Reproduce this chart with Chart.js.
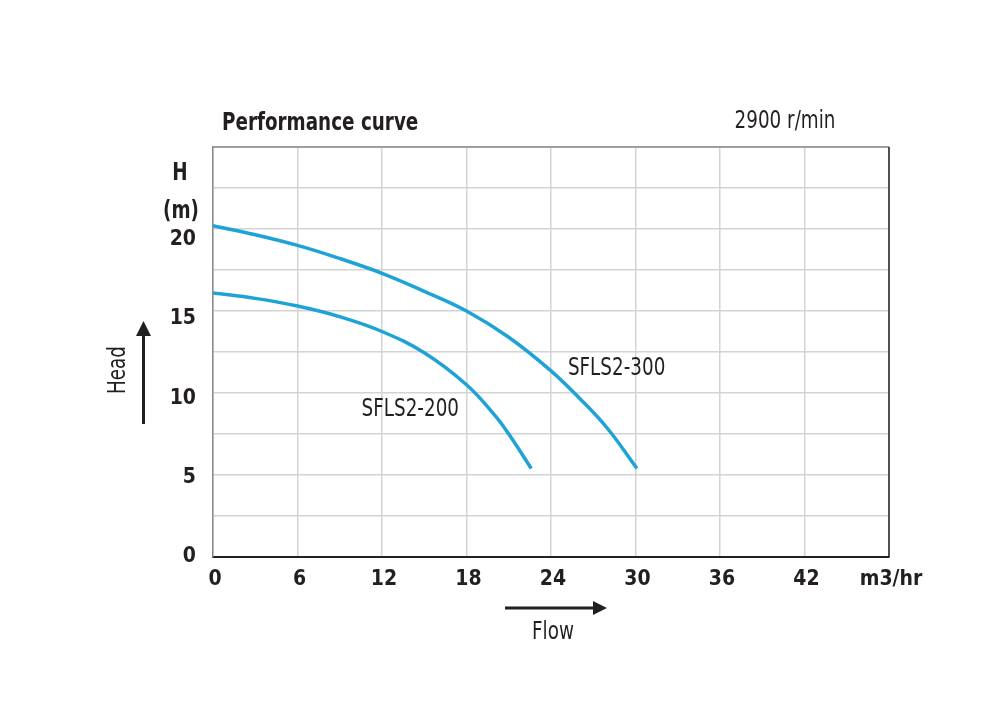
<!DOCTYPE html>
<html>
<head>
<meta charset="utf-8">
<script src="https://cdn.jsdelivr.net/npm/chart.js@4.4.0/dist/chart.umd.min.js"></script>
<style>
  html,body{margin:0;padding:0;background:#fff;}
  #wrap{width:1000px;height:712px;position:relative;}
</style>
</head>
<body>
<div id="wrap"><canvas id="c" width="1000" height="712"></canvas></div>
<script>
// ---- data ----
const flow300 = [0, 3, 6, 9, 12, 15, 18, 21, 24, 26, 28, 30.1];
const head300 = [20.2, 19.65, 19.0, 18.2, 17.3, 16.2, 15.0, 13.4, 11.35, 9.7, 7.85, 5.4];
const flow200 = [0, 3, 6, 9, 12, 15, 18, 20, 21, 22.6];
const head200 = [16.1, 15.77, 15.3, 14.65, 13.75, 12.45, 10.5, 8.65, 7.5, 5.4];
const seriesNames = ['SFLS2-300', 'SFLS2-200'];
const xTickLabels = {0:'0',6:'6',12:'12',18:'18',24:'24',30:'30',36:'36',42:'42',48:'m3/hr'};
const yTickValues = [0, 5, 10, 15, 20];
const titleText = 'Performance curve';
const speedText = '2900 r/min';
const yUnitLines = ['H', '(m)'];
const yAxisName = 'Head';
const xAxisName = 'Flow';
const curveLabelPos = [{name:'SFLS2-300', q:25.2, h:11.45}, {name:'SFLS2-200', q:10.55, h:9.0}];

const FONT = '"DejaVu Sans Condensed","Liberation Sans Narrow",Arial,sans-serif';
const INK = '#231f20';
const BLUE = '#1fa3d6';
const SX = 0.85; // horizontal squeeze for condensed look

const toPts = (xs, ys) => xs.map((x, i) => ({x, y: ys[i]}));

function squeezedText(ctx, txt, x, y, align) {
  ctx.save();
  ctx.translate(x, y);
  ctx.scale(SX, 1);
  ctx.textAlign = align;
  ctx.fillText(txt, 0, 0);
  ctx.restore();
}

const decor = {
  id: 'decor',
  afterDraw(chart) {
    const {ctx, chartArea: a, scales: {x, y}} = chart;
    ctx.save();
    ctx.lineWidth = 1.5;
    ctx.strokeStyle = '#8a8a8a';
    ctx.beginPath(); ctx.moveTo(a.left, a.top); ctx.lineTo(a.right, a.top); ctx.stroke();
    ctx.strokeStyle = '#222';
    ctx.beginPath(); ctx.moveTo(a.right, a.top); ctx.lineTo(a.right, a.bottom); ctx.stroke();

    ctx.fillStyle = INK;
    ctx.textBaseline = 'middle';
    ctx.font = 'bold 24px ' + FONT;
    squeezedText(ctx, titleText, 222, 124, 'left');
    ctx.font = '24px ' + FONT;
    squeezedText(ctx, speedText, 785, 122, 'center');
    ctx.font = 'bold 24px ' + FONT;
    squeezedText(ctx, yUnitLines[0], 180, 174, 'center');
    squeezedText(ctx, yUnitLines[1], 181, 212, 'center');
    ctx.font = '24px ' + FONT;
    curveLabelPos.forEach(p => {
      squeezedText(ctx, p.name, x.getPixelForValue(p.q), y.getPixelForValue(p.h), 'left');
    });
    ctx.save();
    ctx.translate(119, 370);
    ctx.rotate(-Math.PI / 2);
    ctx.scale(SX, 1);
    ctx.textAlign = 'center';
    ctx.fillText(yAxisName, 0, 0);
    ctx.restore();
    ctx.strokeStyle = INK; ctx.lineWidth = 3;
    ctx.beginPath(); ctx.moveTo(143.5, 424); ctx.lineTo(143.5, 334); ctx.stroke();
    ctx.beginPath(); ctx.moveTo(143.5, 321); ctx.lineTo(151, 336); ctx.lineTo(136, 336); ctx.closePath(); ctx.fill();
    ctx.beginPath(); ctx.moveTo(505, 608); ctx.lineTo(595, 608); ctx.stroke();
    ctx.beginPath(); ctx.moveTo(607, 608); ctx.lineTo(593, 601); ctx.lineTo(593, 615); ctx.closePath(); ctx.fill();
    ctx.font = '24px ' + FONT;
    squeezedText(ctx, xAxisName, 553, 633, 'center');
    ctx.restore();
  }
};

new Chart(document.getElementById('c'), {
  type: 'scatter',
  data: {
    datasets: [
      {label: seriesNames[0], data: toPts(flow300, head300), showLine: true, borderColor: BLUE, borderWidth: 3.5, pointRadius: 0, tension: 0.4, fill: false},
      {label: seriesNames[1], data: toPts(flow200, head200), showLine: true, borderColor: BLUE, borderWidth: 3.5, pointRadius: 0, tension: 0.4, fill: false}
    ]
  },
  options: {
    responsive: false,
    animation: false,
    devicePixelRatio: 1,
    layout: {padding: {top: 147, right: 111, left: 0, bottom: 0}},
    plugins: {legend: {display: false}, tooltip: {enabled: false}},
    scales: {
      x: {
        type: 'linear', min: 0, max: 48,
        afterBuildTicks(s) { s.ticks = Object.keys(xTickLabels).map(v => ({value: +v})); },
        afterFit(s) { s.height = 712 - 557; },
        grid: {color: '#d4d4d4', lineWidth: 1.5, drawTicks: false},
        border: {color: '#222', width: 2},
        ticks: {
          padding: 10, labelOffset: 2, color: INK, maxRotation: 0, autoSkip: false,
          font: {family: FONT, size: 21, weight: 'bold'},
          callback: v => xTickLabels[v] ?? ''
        }
      },
      y: {
        type: 'linear', min: 0, max: 25, position: 'left',
        afterBuildTicks(s) { const t = []; for (let i = 0; i <= 10; i++) t.push({value: i * 2.5}); s.ticks = t; },
        afterFit(s) { s.width = 0; },
        grid: {color: '#d4d4d4', lineWidth: 1.5, drawTicks: false},
        border: {color: '#8a8a8a', width: 1.5},
        ticks: {display: false}
      },
      yLab: {
        type: 'linear', min: 0, max: 25.8, position: 'left',
        afterBuildTicks(s) { s.ticks = yTickValues.map(v => ({value: v})); },
        afterFit(s) { s.width = 213; },
        grid: {display: false, drawTicks: false},
        border: {display: false},
        ticks: {
          padding: 17, color: INK, autoSkip: false,
          font: {family: FONT, size: 21, weight: 'bold'},
          callback: v => String(v)
        }
      }
    }
  },
  plugins: [decor]
});
</script>
</body>
</html>
